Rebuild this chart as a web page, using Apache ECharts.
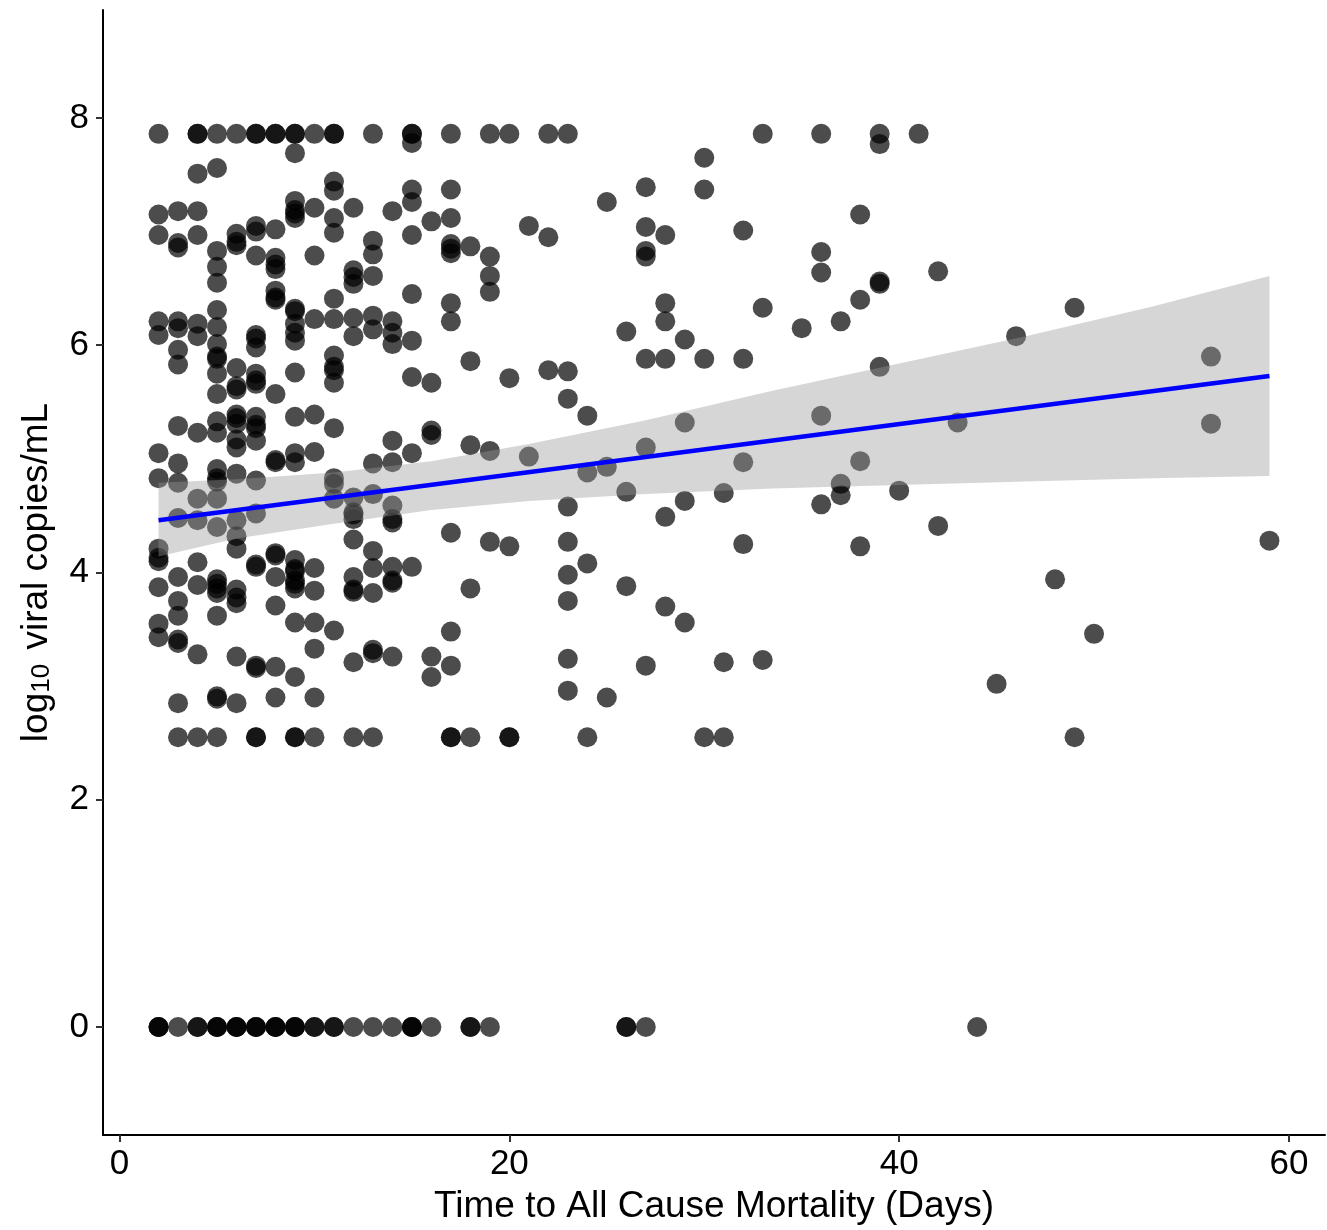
<!DOCTYPE html>
<html><head><meta charset="utf-8">
<script src="https://cdn.jsdelivr.net/npm/echarts@6/dist/echarts.min.js"></script>
<style>html,body{margin:0;padding:0;background:#fff}#c{width:1327px;height:1230px}</style>
</head><body><div id="c"></div>
<script>
// Days to all-cause mortality (x) and log10 viral copies/mL read per day column
const columnDays = [2,3,4,5,6,7,8,9,10,11,12,13,14,15,16,17,18,19,20,21,22,23,24,25,26,27,28,29,30,31,32,33,35,36,37,38,39,40,41,42,43,44,45,46,48,49,50,56,59];
const columnValues = [
  [7.86,7.15,6.97,6.21,6.09,5.05,4.83,4.21,4.13,4.10,3.87,3.55,3.43,0,0,0],
  [7.18,6.90,6.86,6.21,6.15,5.96,5.83,5.29,4.96,4.79,4.48,3.96,3.75,3.62,3.41,3.38,2.85,2.55,0],
  [7.86,7.86,7.51,7.18,6.97,6.19,6.08,5.23,4.65,4.46,4.09,3.89,3.28,2.55,0,0],
  [7.86,7.56,6.83,6.69,6.55,6.31,6.16,6.01,5.90,5.88,5.75,5.57,5.33,5.23,4.91,4.83,4.80,4.65,4.40,3.94,3.90,3.86,3.82,3.62,2.91,2.89,2.55,0,0,0],
  [7.86,6.98,6.91,6.88,5.80,5.64,5.61,5.39,5.36,5.31,5.17,5.10,4.87,4.46,4.32,4.21,3.85,3.78,3.73,3.26,2.85,0,0,0],
  [7.86,7.86,7.05,7.00,6.79,6.09,6.06,5.98,5.75,5.69,5.66,5.37,5.30,5.27,5.16,4.81,4.52,4.07,4.05,3.18,3.16,2.55,2.55,0,0,0],
  [7.86,7.86,7.02,6.77,6.71,6.67,6.48,6.42,6.40,5.57,4.99,4.97,4.17,4.15,3.96,3.71,3.17,2.90,0,0,0],
  [7.86,7.86,7.69,7.27,7.19,7.16,7.12,6.32,6.30,6.19,6.11,6.04,5.76,5.37,5.05,4.97,4.11,4.03,4.01,3.93,3.90,3.86,3.56,3.08,2.55,2.55,0,0,0],
  [7.86,7.21,6.79,6.23,5.39,5.06,4.04,3.84,3.56,3.33,2.90,2.55,0,0],
  [7.86,7.86,7.44,7.36,7.12,6.99,6.41,6.23,5.91,5.81,5.78,5.67,5.27,4.83,4.78,4.65,3.49,0,0],
  [7.21,6.66,6.60,6.54,6.24,6.08,4.66,4.53,4.51,4.47,4.29,3.96,3.85,3.83,3.21,2.55,0],
  [7.86,6.92,6.80,6.61,6.26,6.14,4.96,4.69,4.19,4.04,3.82,3.32,3.29,2.55,0],
  [7.18,6.21,6.11,6.01,5.16,4.97,4.59,4.47,4.44,4.05,3.93,3.91,3.26,0],
  [7.86,7.86,7.78,7.37,7.26,6.97,6.45,6.04,5.72,5.05,4.05,0,0,0],
  [7.09,5.67,5.25,5.21,3.26,3.08,0],
  [7.86,7.37,7.12,6.89,6.85,6.81,6.37,6.21,4.35,3.48,3.18,2.55,2.55],
  [6.87,5.86,5.12,3.86,2.55,0,0],
  [7.86,6.78,6.61,6.47,5.07,4.27,0],
  [7.86,5.71,4.23,2.55,2.55],
  [7.05,5.02],
  [7.86,6.95,5.78],
  [7.86,5.77,5.53,4.58,4.27,3.98,3.75,3.24,2.96],
  [5.38,4.88,4.08,2.55],
  [7.26,4.93,2.90],
  [6.12,4.71,3.88,0,0],
  [7.39,7.04,6.83,6.78,5.88,5.10,3.18,0],
  [6.97,6.37,6.21,5.88,4.49,3.70],
  [6.05,5.32,4.63,3.56],
  [7.65,7.37,5.88,2.55],
  [4.70,3.21,2.55],
  [7.01,5.88,4.97,4.25],
  [7.86,6.33,3.23],
  [6.15],
  [7.86,6.82,6.64,5.38,4.60],
  [6.21,4.78,4.68],
  [7.15,6.40,4.98,4.23],
  [7.86,7.77,6.56,6.54,5.81],
  [4.72],
  [7.86],
  [6.65,4.41],
  [5.32],
  [0],
  [3.02],
  [6.08],
  [3.94],
  [6.33,2.55],
  [3.46],
  [5.90,5.31],
  [4.28]
];
const xTicks = [0,20,40,60];
const yTicks = [0,2,4,6,8];
// linear fit line and its confidence band
const fitX = [2,59];
const fitY = [4.46,5.73];
const bandX = [2,6,11,16,21,27,33.5,40,46.5,53,59];
const bandUpper = [4.79,4.82,4.88,4.98,5.13,5.34,5.60,5.84,6.08,6.34,6.61];
const bandLower = [4.14,4.30,4.43,4.55,4.63,4.69,4.74,4.77,4.80,4.83,4.85];

const points = [];
columnDays.forEach((d,i)=>columnValues[i].forEach(v=>points.push([d,v])));
const fitData = fitX.map((x,i)=>[x,fitY[i]]);

const FONT = 'Liberation Sans, Arial, sans-serif';
const chart = echarts.init(document.getElementById('c'), null, {renderer:'canvas'});
chart.setOption({
  animation:false,
  backgroundColor:'#fff',
  grid:{left:103,right:2,top:10,bottom:95,containLabel:false},
  xAxis:{
    type:'value', min:-0.85, max:61.85,
    name:'Time to All Cause Mortality (Days)', nameLocation:'middle', nameGap:53,
    nameTextStyle:{fontSize:37,color:'#000',fontFamily:FONT},
    axisLine:{onZero:false,lineStyle:{color:'#000',width:2}},
    axisTick:{show:true,length:7,customValues:xTicks,lineStyle:{color:'#333',width:2}},
    axisLabel:{customValues:xTicks,fontSize:35,color:'#000',margin:12,fontFamily:FONT},
    splitLine:{show:false}
  },
  yAxis:{
    type:'value', min:-0.95, max:8.95,
    name:'{n|log}{s|10}{n| viral copies/mL}', nameLocation:'middle', nameGap:48, nameRotate:90,
    nameTextStyle:{color:'#000',fontFamily:FONT,
      rich:{n:{fontSize:37,lineHeight:44,color:'#000',fontFamily:FONT,verticalAlign:'bottom'},
            s:{fontSize:26,lineHeight:22,color:'#000',fontFamily:FONT,verticalAlign:'bottom',padding:[0,4,0,0]}}},
    axisLine:{onZero:false,lineStyle:{color:'#000',width:2}},
    axisTick:{show:true,length:7,customValues:yTicks,lineStyle:{color:'#333',width:2}},
    axisLabel:{customValues:yTicks,fontSize:35,color:'#000',margin:14,fontFamily:FONT},
    splitLine:{show:false}
  },
  series:[
    {type:'scatter',data:points,symbol:'circle',symbolSize:20,z:2,
     itemStyle:{color:'#000',opacity:0.7},emphasis:{disabled:true}},
    {type:'custom',z:3,data:[[bandX[0],bandLower[0]]],
     renderItem:function(params,api){
       const pts=[];
       for(let i=0;i<bandX.length;i++) pts.push(api.coord([bandX[i],bandUpper[i]]));
       for(let i=bandX.length-1;i>=0;i--) pts.push(api.coord([bandX[i],bandLower[i]]));
       return {type:'polygon',shape:{points:pts},style:{fill:'#999999',opacity:0.4}};
     },silent:true},
    {type:'line',data:fitData,showSymbol:false,z:4,
     lineStyle:{color:'#0000ff',width:4.5},emphasis:{disabled:true}}
  ]
});
</script></body></html>
